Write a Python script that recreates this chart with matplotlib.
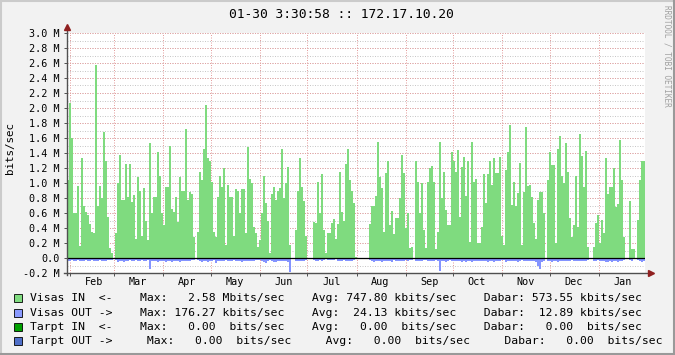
import numpy as np
import matplotlib
matplotlib.use("Agg")
import matplotlib.pyplot as plt
import matplotlib.dates as mdates
from matplotlib.lines import Line2D
from matplotlib.patches import Rectangle
from datetime import datetime

plt.rcParams['font.family'] = ['DejaVu Sans Mono']

# --- data (Mbits/sec), one value per ~1.26 days, 30 Jan -> 30 Jan ---
start = datetime(2010, 1, 30, 3, 30)
end = datetime(2011, 1, 30, 3, 30)

visas_in = [
    1.04, 2.07, 1.6, 0.6, 0.6, 0.96, 0.16, 1.34, 0.7, 0.62,
    0.57, 0.45, 0.35, 0.34, 2.58, 0.7, 0.96, 0.8, 1.68, 1.3,
    0.55, 0.13, 0.07, 0.0, 0.34, 1.0, 1.37, 0.77, 0.77, 1.26,
    0.82, 1.26, 0.75, 0.84, 0.25, 1.08, 0.9, 0.29, 0.93, 0.5,
    0.24,
    1.53, 0.6, 0.82, 0.82, 1.42, 1.1, 0.6, 0.44, 0.95, 0.95,
    1.49, 0.65, 0.62, 0.82, 0.48, 1.08, 0.9, 0.9, 1.72, 0.77,
    0.88, 0.86, 0.28, 0.0, 0.35, 1.15, 1.04, 1.46, 2.04, 1.33,
    1.29, 1.02, 0.35, 0.28, 0.82, 1.1, 0.95, 1.2, 0.17, 0.97,
    0.82, 0.82,
    0.29, 0.92, 0.9, 0.6, 0.92, 0.92, 0.34, 1.48, 1.05, 1.0,
    0.41, 0.33, 0.15, 0.24, 0.6, 1.1, 0.73, 0.5, 0.07, 0.85,
    0.95, 0.78, 0.9, 0.94, 1.45, 0.8, 1.0, 1.22, 0.17, 0.0,
    0.0, 0.37, 0.9, 1.33, 0.95, 0.76, 0.3, 0.0, 0.0, 0.0,
    0.48,
    0.47, 1.02, 0.6, 1.12, 0.38, 0.07, 0.33, 0.33, 0.47, 0.52,
    0.26, 0.45, 1.15, 0.62, 0.5, 1.26, 1.45, 1.04, 0.9, 0.73,
    0.02, 0.0, 0.0, 0.0, 0.0, 0.0, 0.0, 0.46, 0.69, 0.69,
    0.83, 1.55, 1.08, 0.94, 0.35, 1.13, 1.29, 0.44, 0.63, 0.32,
    0.54, 0.54,
    0.8, 1.37, 1.14, 0.4, 0.6, 0.13, 0.15, 0.0, 1.29, 1.02,
    0.6, 1.0, 0.37, 0.13, 1.02, 1.2, 1.23, 1.02, 0.12, 0.35,
    1.55, 0.8, 1.15, 0.64, 0.44, 0.44, 1.42, 1.3, 1.15, 1.44,
    0.55, 1.22, 1.35, 0.83, 1.3, 0.22, 1.55, 1.02, 1.05, 0.2,
    0.2,
    0.42, 1.12, 0.73, 1.12, 1.3, 0.97, 1.34, 1.14, 1.13, 1.35,
    0.3, 0.17, 1.17, 1.42, 1.77, 0.71, 1.02, 0.69, 0.87, 1.27,
    0.17, 0.88, 1.75, 0.96, 0.97, 0.82, 0.47, 0.26, 0.77, 0.88,
    0.88, 0.6, 0.0, 1.04, 1.42, 1.24, 1.24, 0.2, 1.46, 1.63,
    1.1,
    1.0, 1.54, 1.15, 0.53, 0.28, 0.44, 1.09, 0.42, 1.65, 1.36,
    0.95, 1.43, 0.15, 0.0, 0.0, 0.15, 0.47, 0.57, 0.2, 0.51,
    0.33, 1.33, 0.86, 0.95, 0.95, 1.2, 0.68, 0.72, 1.58, 1.04,
    0.28, 0.0, 0.0, 0.76, 0.12, 0.12, 0.0, 0.51, 1.04, 1.3,
    1.3,
]

visas_out = [
    0.04, 0.04, 0.03, 0.04, 0.04, 0.03, 0.04, 0.04, 0.04, 0.03,
    0.04, 0.04, 0.03, 0.04, 0.04, 0.04, 0.03, 0.04, 0.04, 0.04,
    0.03, 0.03, 0.03, 0.0, 0.03, 0.05, 0.04, 0.04, 0.05, 0.04,
    0.04, 0.03, 0.04, 0.04, 0.03, 0.04, 0.04, 0.03, 0.04, 0.04,
    0.03,
    0.14, 0.04, 0.04, 0.04, 0.05, 0.04, 0.04, 0.04, 0.05, 0.04,
    0.04, 0.05, 0.04, 0.04, 0.04, 0.05, 0.04, 0.04, 0.04, 0.04,
    0.04, 0.03, 0.03, 0.0, 0.03, 0.04, 0.05, 0.04, 0.04, 0.05,
    0.04, 0.04, 0.03, 0.06, 0.04, 0.04, 0.04, 0.04, 0.03, 0.04,
    0.04, 0.04,
    0.03, 0.04, 0.04, 0.04, 0.05, 0.04, 0.04, 0.04, 0.04, 0.04,
    0.04, 0.03, 0.03, 0.03, 0.04, 0.05, 0.06, 0.04, 0.03, 0.04,
    0.05, 0.05, 0.04, 0.04, 0.04, 0.04, 0.04, 0.05, 0.18, 0.0,
    0.0, 0.04, 0.04, 0.04, 0.04, 0.04, 0.03, 0.0, 0.0, 0.0,
    0.03,
    0.04, 0.04, 0.03, 0.04, 0.03, 0.0, 0.03, 0.03, 0.03, 0.03,
    0.0, 0.04, 0.04, 0.04, 0.03, 0.04, 0.04, 0.04, 0.04, 0.03,
    0.0, 0.0, 0.0, 0.0, 0.0, 0.0, 0.0, 0.03, 0.04, 0.05,
    0.04, 0.04, 0.04, 0.05, 0.04, 0.04, 0.04, 0.04, 0.05, 0.03,
    0.04, 0.04,
    0.04, 0.04, 0.04, 0.03, 0.04, 0.03, 0.03, 0.0, 0.04, 0.04,
    0.04, 0.04, 0.03, 0.03, 0.04, 0.04, 0.04, 0.04, 0.03, 0.04,
    0.17, 0.04, 0.04, 0.05, 0.04, 0.03, 0.04, 0.04, 0.04, 0.04,
    0.04, 0.05, 0.04, 0.05, 0.04, 0.04, 0.05, 0.04, 0.04, 0.04,
    0.04,
    0.04, 0.04, 0.04, 0.05, 0.04, 0.04, 0.05, 0.04, 0.04, 0.04,
    0.03, 0.03, 0.05, 0.04, 0.04, 0.04, 0.04, 0.04, 0.05, 0.04,
    0.03, 0.04, 0.04, 0.04, 0.04, 0.04, 0.04, 0.05, 0.10, 0.14,
    0.05, 0.04, 0.0, 0.04, 0.04, 0.05, 0.04, 0.04, 0.05, 0.04,
    0.04,
    0.04, 0.04, 0.04, 0.04, 0.03, 0.04, 0.04, 0.04, 0.04, 0.04,
    0.04, 0.04, 0.03, 0.0, 0.0, 0.04, 0.04, 0.03, 0.04, 0.04,
    0.04, 0.05, 0.05, 0.04, 0.05, 0.04, 0.04, 0.05, 0.04, 0.04,
    0.03, 0.0, 0.0, 0.03, 0.04, 0.0, 0.0, 0.03, 0.04, 0.05,
    0.04,
]

legend_rows = [
    ("Visas IN  <-    Max:   2.58 Mbits/sec    Avg: 747.80 kbits/sec    Dabar: 573.55 kbits/sec", '#80DC80'),
    ("Visas OUT ->    Max: 176.27 kbits/sec    Avg:  24.13 kbits/sec    Dabar:  12.89 kbits/sec", '#8A9AFF'),
    ("Tarpt IN  <-    Max:   0.00  bits/sec    Avg:   0.00  bits/sec    Dabar:   0.00  bits/sec", '#00A000'),
    ("Tarpt OUT ->     Max:   0.00  bits/sec     Avg:   0.00  bits/sec     Dabar:   0.00  bits/sec", '#4F6FC8'),
]

W, H = 675, 355
fig = plt.figure(figsize=(W / 100, H / 100), dpi=100, facecolor='#F2F2F2')

# plot area in pixels: x 67..645, y 33 (3.0 M) .. 273 (-0.2 M)
ax = fig.add_axes([67 / W, (H - 273) / H, 578 / W, 240 / H])
ax.set_facecolor('white')

t0 = mdates.date2num(start)
t1 = mdates.date2num(end)
step = (t1 - t0) / len(visas_in)
x = t0 + step * np.arange(len(visas_in))

ax.set_xlim(t0, t1)
ax.set_ylim(-0.2, 3.0)

# grid
for y in np.arange(-0.1, 3.01, 0.1):
    ax.axhline(y, color='#C8C8C8', lw=0.72, ls=(0, (1, 1.5)), zorder=1)
for y in np.arange(-0.2, 3.01, 0.2):
    ax.axhline(y, color='#E4A0A0', lw=0.72, ls=(0, (1, 1.5)), zorder=1)
months = mdates.MonthLocator(bymonthday=1)
for m in months.tick_values(start, end):
    if t0 < m < t1:
        ax.axvline(m, color='#E4A0A0', lw=0.72, ls=(0, (1, 1.5)), zorder=1)

ax.bar(x, visas_in, width=step, align='edge', color='#7FDB7F', lw=0, zorder=2)
ax.bar(x, -np.array(visas_out), width=step, align='edge', color='#8494FF', lw=0, zorder=2)
ax.axhline(0, color='black', lw=0.9, zorder=3)

for s in ax.spines.values():
    s.set_visible(False)

# axes lines with arrows
ax.add_line(Line2D([0, 0], [-0.01, 1.02], transform=ax.transAxes, color='#505050', lw=1, clip_on=False, zorder=4))
ax.add_line(Line2D([-0.005, 1.008], [0, 0], transform=ax.transAxes, color='#505050', lw=1, clip_on=False, zorder=4))
ax.plot([0], [1.025], marker='^', ms=4, color='#902020', transform=ax.transAxes, clip_on=False, zorder=5)
ax.plot([1.010], [0], marker='>', ms=4, color='#902020', transform=ax.transAxes, clip_on=False, zorder=5)

# y ticks
yt = np.round(np.arange(-0.2, 3.01, 0.2), 1)
ax.set_yticks(yt)
ax.set_yticklabels(['0.0' if v == 0 else '%.1f M' % v for v in yt])
ax.tick_params(axis='y', length=2, width=0.7, color='#505050', labelsize=7.3, pad=3)

# x ticks: labels centered mid-month
ax.xaxis.set_major_locator(mdates.MonthLocator(bymonthday=1))
ax.xaxis.set_major_formatter(plt.NullFormatter())
ax.xaxis.set_minor_locator(mdates.MonthLocator(bymonthday=16))
ax.xaxis.set_minor_formatter(mdates.DateFormatter('%b'))
ax.tick_params(axis='x', which='major', length=2, width=0.7, color='#505050')
ax.tick_params(axis='x', which='minor', length=0, labelsize=7.3, pad=3)

# titles
fig.text(341 / W, 1 - 14 / H, '01-30 3:30:58 :: 172.17.10.20', ha='center', va='center', fontsize=9.3)
fig.text(10 / W, 1 - 148 / H, 'bits/sec', rotation=90, ha='center', va='center', fontsize=7.8)
fig.text(667 / W, 1 - 5 / H, 'RRDTOOL / TOBI OETIKER', rotation=270, ha='center', va='top',
         fontsize=5.6, color='#A0A0A0')

# legend
row_y = [298, 313, 327, 341]
for (txt, col), yy in zip(legend_rows, row_y):
    fig.patches.append(Rectangle((14 / W, 1 - (yy + 4) / H), 8 / W, 8 / H, transform=fig.transFigure,
                                 facecolor=col, edgecolor='black', lw=0.6))
    fig.text(30 / W, 1 - yy / H, txt, ha='left', va='center', fontsize=8.2)

# 3D-ish frame
fig.add_artist(Line2D([0, 1], [1 - 1 / H, 1 - 1 / H], color='#CBCBCB', lw=1.5))
fig.add_artist(Line2D([1 / W, 1 / W], [0, 1], color='#CBCBCB', lw=1.5))
fig.add_artist(Line2D([0, 1], [1 / H, 1 / H], color='#999999', lw=1.5))
fig.add_artist(Line2D([1 - 1 / W, 1 - 1 / W], [0, 1], color='#999999', lw=1.5))

fig.savefig('out.png', dpi=100, facecolor=fig.get_facecolor())
